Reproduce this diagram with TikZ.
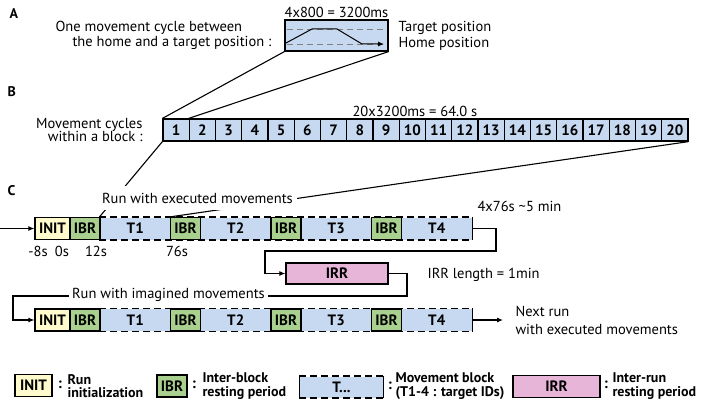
\documentclass[tikz,border=0pt]{standalone}
\usepackage{fontspec}
\setmainfont{PT Sans}
\usetikzlibrary{arrows.meta,positioning}

\definecolor{blockblue}{RGB}{198,217,241}
\definecolor{inityellow}{RGB}{255,251,204}
\definecolor{ibrgreen}{RGB}{169,208,142}
\definecolor{irrpink}{RGB}{230,181,216}

\tikzset{
  lbl/.style={font=\fontsize{14.5}{15}\selectfont, inner sep=0pt},
  legtxt/.style={font=\fontsize{14}{13.5}\selectfont\bfseries, inner sep=0pt, align=left, anchor=west},
  panel/.style={font=\fontsize{14}{16}\selectfont\bfseries, inner sep=0pt, anchor=west},
  box/.style={draw, line width=1.2pt, inner sep=0pt, minimum height=22pt, font=\fontsize{15}{16}\selectfont\bfseries},
  cell/.style={box, fill=blockblue, minimum width=26.25pt, font=\fontsize{15}{16}\selectfont\bfseries},
  tblock/.style={inner sep=0pt, fill=blockblue, minimum width=70.5pt, minimum height=22pt, font=\fontsize{15}{16}\selectfont\bfseries},
  initbox/.style={box, fill=inityellow, minimum width=35pt},
  ibrbox/.style={box, fill=ibrgreen, minimum width=30pt},
  irrbox/.style={box, fill=irrpink, minimum width=102pt, minimum height=21pt},
  dashedge/.style={line width=1.2pt, dash pattern=on 7pt off 4pt},
  colon/.style={font=\fontsize{15}{16}\selectfont\bfseries, inner sep=0pt}
}

\begin{document}
\begin{tikzpicture}[x=1pt, y=-1pt, line width=1.1pt, >={Latex[length=6pt,width=5pt]}]
\useasboundingbox (0,0) rectangle (708,404);

% panel letters
\node[panel] (pa) at (9,14) {A};
\node[panel] (pb) at (7,92) {B};
\node[panel] (pc) at (7,191) {C};

% A: one cycle
\node[lbl, anchor=south] (dur) at (336.5,18) {4x800 = 3200ms};
\node[draw, fill=blockblue, line width=1.2pt, minimum width=103pt, minimum height=31pt, inner sep=0pt] (cyc) at (336.5,35.5) {};
\draw[line width=0.9pt, gray, dash pattern=on 6pt off 4pt] (287,29) -- (386,29);
\draw[line width=0.9pt, gray, dash pattern=on 6pt off 4pt] (287,44) -- (386,44);
\draw[->, line width=1pt] (286,43) -- (312,29) -- (337,29) -- (362,44) -- (384,44);
\node[lbl, align=left, anchor=west] (cyctxt) at (55,35.5) {One movement cycle between\\\hspace*{17pt}the home and a target position :};
\node[lbl, align=left, anchor=west, font=\fontsize{14.5}{16}\selectfont] (postxt) at (398,36) {Target position\\Home position};

% B: cycles in a block
\foreach \i in {1,...,20}
  \node[cell] (c\i) at ({163+26.25*(\i-0.5)},130) {\i};
\node[lbl, anchor=west] (blkdur) at (352,111) {20x3200ms = 64.0 s};
\node[lbl, align=right, anchor=east, font=\fontsize{14.5}{13.5}\selectfont] (blktxt) at (143,130) {Movement cycles\\within a block :};

\draw (cyc.south west) -- (c1.north west);
\draw (cyc.south east) -- (c2.north west);

% C: runs
\foreach \r/\y in {1/228.5, 2/320} {
  \foreach \k in {1,...,4}
    \node[tblock] (t\r-\k) at ({135.25+100.5*(\k-1)},\y) {T\k};
  \draw[dashedge] (t\r-1.north west) -- (t\r-4.north east);
  \draw[dashedge] (t\r-1.south west) -- (t\r-4.south east);
  \draw[line width=1.2pt] (t\r-4.north east) -- (t\r-4.south east);
  \node[initbox] (init\r) at (52.5,\y) {INIT};
  \foreach \k in {1,...,4}
    \node[ibrbox] (ibr\r-\k) at ({85+100.5*(\k-1)},\y) {IBR};
}

\draw (c1.south west) -- (t1-1.north west);
\draw (c20.south east) -- (ibr1-2.north west);
\node[lbl, fill=white, inner sep=4pt, minimum height=24pt] (exe) at (197.5,198) {Run with executed movements};

\coordinate (in1) at (0,228.5);
\draw[->] (in1) -- (init1.west);

\node[lbl] (tm1) at (38,251) {-8s};
\node[lbl] (tm2) at (62,251) {0s};
\node[lbl] (tm3) at (96,251) {12s};
\node[lbl] (tm4) at (177,251) {76s};
\node[lbl, anchor=west] (rundur) at (477,206) {4x76s \textasciitilde5 min};

\node[irrbox] (irr) at (337,273.5) {IRR};
\node[lbl, anchor=west] (irrlen) at (427,275) {IRR length = 1min};

\draw[->] (t1-4.east) -| (496,251) -| (265,273.5) -- (irr.west);
\draw[->] (irr.east) -| (407,296) -| (13,320) -- (init2.west);
\node[lbl, fill=white, inner sep=3pt] (ima) at (168.5,295) {Run with imagined movements};

\coordinate (out2) at (503,320);
\draw[->] (t2-4.east) -- (out2);
\node[lbl, align=left, anchor=west, font=\fontsize{14.5}{18}\selectfont] (next) at (515,320) {Next run\\with executed movements};

% legend
\node[initbox, minimum width=37pt, minimum height=22pt] (lginit) at (33.5,385.5) {INIT};
\node[colon] (col1) at (60,385) {:};
\node[legtxt] (lgtxt1) at (67,386) {Run\\initialization};

\node[ibrbox] (lgibr) at (172,386) {IBR};
\node[colon] (col2) at (194,385) {:};
\node[legtxt] (lgtxt2) at (202,386) {Inter-block\\resting period};

\node[tblock, minimum width=83pt, minimum height=21pt] (lgt) at (341.5,387) {T...};
\draw[dashedge] (lgt.north west) -- (lgt.north east);
\draw[dashedge] (lgt.south west) -- (lgt.south east);
\draw[line width=1.2pt] (lgt.north west) -- (lgt.south west);
\draw[line width=1.2pt] (lgt.north east) -- (lgt.south east);
\node[colon] (col3) at (390,386) {:};
\node[legtxt] (lgtxt3) at (395,386) {Movement block\\(T1-4 : target IDs)};

\node[irrbox, minimum width=87pt, minimum height=22pt] (lgirr) at (556.5,386.5) {IRR};
\node[colon] (col4) at (606,385) {:};
\node[legtxt] (lgtxt4) at (612,386) {Inter-run\\resting period};

\end{tikzpicture}
\end{document}
